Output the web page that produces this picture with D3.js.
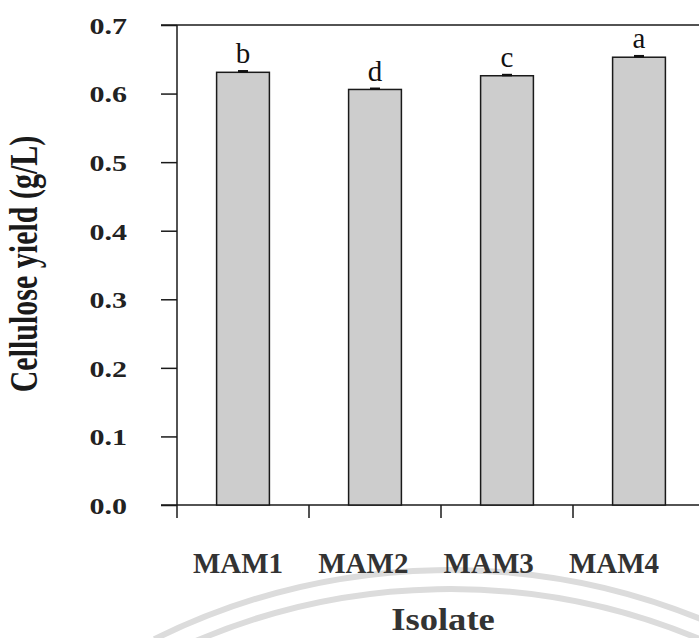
<!DOCTYPE html>
<html>
<head>
<meta charset="utf-8">
<script src="https://cdn.jsdelivr.net/npm/d3@7"></script>
<style>
  body { margin: 0; background: #fff; }
  svg { display: block; }
</style>
</head>
<body>
<div id="my_dataviz"></div>
<script>
// data
var isolates = ["MAM1", "MAM2", "MAM3", "MAM4"];
var yieldValues = [0.631, 0.606, 0.626, 0.653];
var yieldErrors = [0.0015, 0.001, 0.001, 0.0015];
var groupLetters = ["b", "d", "c", "a"];
var yTicks = [0.0, 0.1, 0.2, 0.3, 0.4, 0.5, 0.6, 0.7];

var width = 699, height = 638;

var svg = d3.select("#my_dataviz")
  .append("svg")
  .attr("width", width)
  .attr("height", height);

// faint watermark arcs behind the bottom labels
var wm = svg.append("g").attr("fill", "none").attr("stroke", "#dcdcdc").attr("stroke-width", 6);
[666, 647].forEach(function(r) {
  var p = d3.path();
  p.arc(450, 1236, r, -Math.PI / 2 - 0.46, -Math.PI / 2 + 0.42);
  wm.append("path").attr("d", p.toString());
});

// scales
var x = d3.scaleBand()
  .domain(isolates)
  .range([177, 705])
  .padding(0);

var xLab = d3.scalePoint()
  .domain(isolates)
  .range([238, 614]);

var y = d3.scaleLinear()
  .domain([0, 0.7])
  .range([505, 25]);

var barW = x.bandwidth() * 0.4;
var ink = "#1a1a1a";

// frame: top line and axis lines
svg.append("line")
  .attr("x1", 161).attr("x2", width)
  .attr("y1", y(0.7)).attr("y2", y(0.7))
  .attr("stroke", ink).attr("stroke-width", 1.5);

svg.append("line")
  .attr("x1", 161).attr("x2", width)
  .attr("y1", y(0)).attr("y2", y(0))
  .attr("stroke", ink).attr("stroke-width", 1.5);

svg.append("line")
  .attr("x1", x.range()[0]).attr("x2", x.range()[0])
  .attr("y1", y(0.7)).attr("y2", y(0) + 13)
  .attr("stroke", ink).attr("stroke-width", 1.5);

// Y axis
var yAxis = svg.append("g")
  .attr("transform", "translate(" + x.range()[0] + ",0)")
  .call(d3.axisLeft(y).tickValues(yTicks).tickSize(16).tickSizeOuter(0).tickFormat(d3.format(".1f")));
yAxis.select(".domain").remove();
yAxis.selectAll("line").attr("stroke", ink).attr("stroke-width", 1.5);
yAxis.selectAll("text")
  .attr("x", 0)
  .attr("dy", "0.35em")
  .attr("transform", "translate(-50,0) scale(1.25,1)")
  .style("font-family", "'Liberation Serif', 'Times New Roman', serif")
  .style("font-weight", "bold")
  .style("font-size", "24px")
  .attr("fill", "#222");

// x ticks at band boundaries
svg.append("g")
  .selectAll("line")
  .data(isolates.slice(1))
  .enter()
  .append("line")
  .attr("x1", function(d) { return x(d); })
  .attr("x2", function(d) { return x(d); })
  .attr("y1", y(0))
  .attr("y2", y(0) + 13)
  .attr("stroke", ink).attr("stroke-width", 1.5);

// bars
svg.selectAll("rect.bar")
  .data(yieldValues)
  .enter()
  .append("rect")
  .attr("class", "bar")
  .attr("x", function(d, i) { return x(isolates[i]) + x.bandwidth() / 2 - barW / 2; })
  .attr("width", barW)
  .attr("y", function(d) { return y(d); })
  .attr("height", function(d) { return y(0) - y(d); })
  .attr("fill", "#cdcdcd")
  .attr("stroke", ink)
  .attr("stroke-width", 1.5);

// error bars
var eb = svg.append("g").attr("stroke", "#111").attr("stroke-width", 2.5);
yieldValues.forEach(function(v, i) {
  var cx = x(isolates[i]) + x.bandwidth() / 2;
  eb.append("line")
    .attr("x1", cx - 5).attr("x2", cx + 5)
    .attr("y1", y(v + yieldErrors[i])).attr("y2", y(v + yieldErrors[i]));
});

// significance letters
svg.selectAll("text.letter")
  .data(groupLetters)
  .enter()
  .append("text")
  .attr("class", "letter")
  .attr("x", function(d, i) { return x(isolates[i]) + x.bandwidth() / 2; })
  .attr("y", function(d, i) { return y(yieldValues[i] + yieldErrors[i]) - 8; })
  .attr("text-anchor", "middle")
  .style("font-family", "'Liberation Serif', 'Times New Roman', serif")
  .style("font-size", "29px")
  .attr("fill", "#111")
  .text(function(d) { return d; });

// category labels
svg.selectAll("text.cat")
  .data(isolates)
  .enter()
  .append("text")
  .attr("class", "cat")
  .attr("x", function(d) { return xLab(d); })
  .attr("y", 573)
  .attr("text-anchor", "middle")
  .style("font-family", "'Liberation Serif', 'Times New Roman', serif")
  .style("font-weight", "bold")
  .style("font-size", "29px")
  .attr("fill", "#333")
  .text(function(d) { return d; });

// axis titles
svg.append("text")
  .attr("transform", "translate(443,630) scale(1.18,1)")
  .attr("text-anchor", "middle")
  .style("font-family", "'Liberation Serif', 'Times New Roman', serif")
  .style("font-weight", "bold")
  .style("font-size", "31px")
  .attr("fill", "#333")
  .text("Isolate");

svg.append("text")
  .attr("transform", "translate(37,264) rotate(-90) scale(1,1.3)")
  .attr("text-anchor", "middle")
  .style("font-family", "'Liberation Serif', 'Times New Roman', serif")
  .style("font-weight", "bold")
  .style("font-size", "30px")
  .attr("fill", "#1a1a1a")
  .text("Cellulose yield (g/L)");
</script>
</body>
</html>
